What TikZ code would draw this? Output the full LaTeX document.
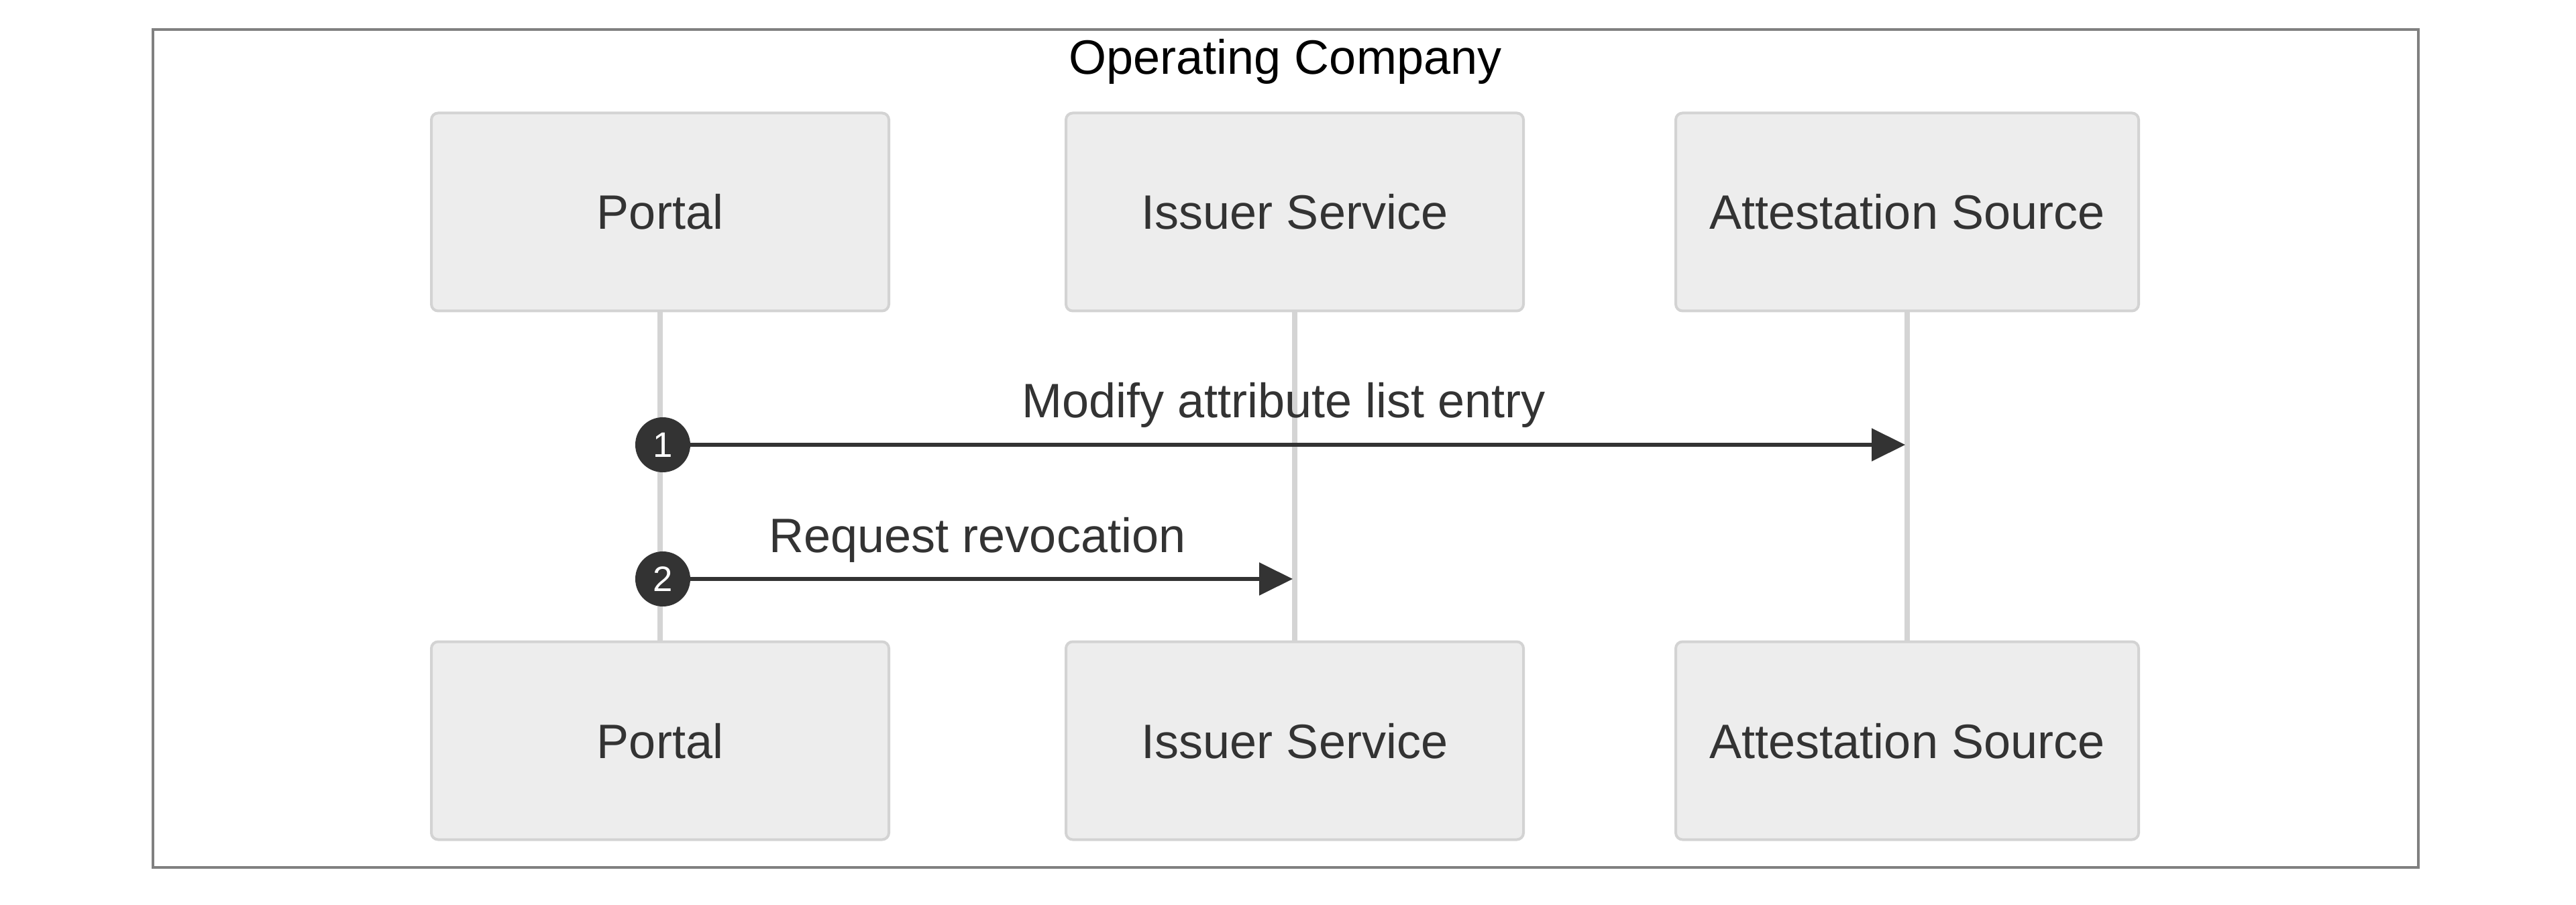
\documentclass[tikz,border=0pt]{standalone}
\usepackage{fontspec}
\setmainfont{Liberation Sans}
\usetikzlibrary{arrows.meta,positioning}
\definecolor{actorfill}{HTML}{EDEDED}
\definecolor{actorline}{HTML}{D3D3D3}
\definecolor{lifegrey}{HTML}{D4D4D4}
\definecolor{framegrey}{HTML}{808080}
\definecolor{ink}{HTML}{333333}

\begin{document}
\begin{tikzpicture}[actor/.style={draw=actorline,fill=actorfill,line width=0.04cm,rounded corners=0.1cm,minimum width=6.82cm,minimum height=2.95cm,inner sep=0pt,text=ink,text height=0.52cm,text depth=0pt,font=\fontsize{20.5}{24}\selectfont},
	lifeline/.style={draw=lifegrey,line width=0.08cm},
	msg/.style={draw=ink,line width=0.06cm,-{Triangle[length=0.5cm,width=0.48cm]},shorten >=0.03cm},
	msglabel/.style={midway,anchor=base,yshift=0.4cm,text=ink,font=\fontsize{20.5}{24}\selectfont},
	seqnum/.style={circle,fill=ink,text=white,minimum size=0.82cm,inner sep=0pt,xshift=0.04cm,font=\fontsize{15}{18}\selectfont}]
	\useasboundingbox (0,0) rectangle (38.40,-13.49);
	\draw[framegrey,line width=0.04cm] (2.28,-0.44) rectangle (36.05,-12.93);
	\node[anchor=base,font=\fontsize{20.5}{24}\selectfont] (title) at (19.16,-1.11) {Operating Company};

	% top row
	\node[actor] (portal1) at (9.84,-3.16) {Portal};
	\node[actor] (issuer1) at (19.30,-3.16) {Issuer Service};
	\node[actor,minimum width=6.90cm] (attest1) at (28.43,-3.16) {Attestation Source};
	% bottom row
	\node[actor,below=4.89cm of portal1] (portal2) {Portal};
	\node[actor,below=4.89cm of issuer1] (issuer2) {Issuer Service};
	\node[actor,minimum width=6.90cm,below=4.89cm of attest1] (attest2) {Attestation Source};

	\draw[lifeline] (portal1.south) -- (portal2.north);
	\draw[lifeline] (issuer1.south) -- (issuer2.north);
	\draw[lifeline] (attest1.south) -- (attest2.north);

	\coordinate (m1) at (portal1 |- 0,-6.63);
	\coordinate (m2) at (portal1 |- 0,-8.63);
	\draw[msg] (m1) -- node[msglabel] {Modify attribute list entry} (m1 -| attest1);
	\draw[msg] (m2) -- node[msglabel] {Request revocation} (m2 -| issuer1);
	\node[seqnum] (num1) at (m1) {1};
	\node[seqnum] (num2) at (m2) {2};
\end{tikzpicture}
\end{document}
